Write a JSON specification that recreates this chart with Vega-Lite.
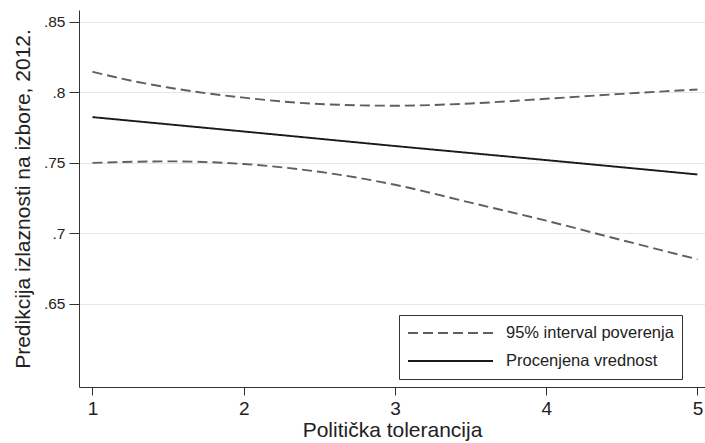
{
  "$schema": "https://vega.github.io/schema/vega-lite/v6.json",
  "width": 626,
  "height": 377,
  "autosize": "none",
  "padding": {"left": 79, "top": 10, "right": 0, "bottom": 56},
  "background": "white",
  "config": {
    "view": {"stroke": null},
    "font": "Liberation Sans"
  },
  "data": {
    "values": [
      {"x": 1.0, "y": 0.8147, "series": "upper", "type": "95% interval poverenja"},
      {"x": 1.25, "y": 0.8085, "series": "upper", "type": "95% interval poverenja"},
      {"x": 1.5, "y": 0.8035, "series": "upper", "type": "95% interval poverenja"},
      {"x": 1.75, "y": 0.7995, "series": "upper", "type": "95% interval poverenja"},
      {"x": 2.0, "y": 0.7963, "series": "upper", "type": "95% interval poverenja"},
      {"x": 2.5, "y": 0.7918, "series": "upper", "type": "95% interval poverenja"},
      {"x": 3.0, "y": 0.7906, "series": "upper", "type": "95% interval poverenja"},
      {"x": 3.5, "y": 0.7922, "series": "upper", "type": "95% interval poverenja"},
      {"x": 4.0, "y": 0.7955, "series": "upper", "type": "95% interval poverenja"},
      {"x": 4.5, "y": 0.799, "series": "upper", "type": "95% interval poverenja"},
      {"x": 5.0, "y": 0.8021, "series": "upper", "type": "95% interval poverenja"},
      {"x": 1.0, "y": 0.75, "series": "lower", "type": "95% interval poverenja"},
      {"x": 1.5, "y": 0.7511, "series": "lower", "type": "95% interval poverenja"},
      {"x": 2.0, "y": 0.7492, "series": "lower", "type": "95% interval poverenja"},
      {"x": 2.5, "y": 0.7437, "series": "lower", "type": "95% interval poverenja"},
      {"x": 3.0, "y": 0.7345, "series": "lower", "type": "95% interval poverenja"},
      {"x": 3.5, "y": 0.7218, "series": "lower", "type": "95% interval poverenja"},
      {"x": 4.0, "y": 0.709, "series": "lower", "type": "95% interval poverenja"},
      {"x": 4.5, "y": 0.6952, "series": "lower", "type": "95% interval poverenja"},
      {"x": 5.0, "y": 0.6816, "series": "lower", "type": "95% interval poverenja"},
      {"x": 1.0, "y": 0.7825, "series": "est", "type": "Procenjena vrednost"},
      {"x": 2.0, "y": 0.7723, "series": "est", "type": "Procenjena vrednost"},
      {"x": 3.0, "y": 0.762, "series": "est", "type": "Procenjena vrednost"},
      {"x": 4.0, "y": 0.752, "series": "est", "type": "Procenjena vrednost"},
      {"x": 5.0, "y": 0.7418, "series": "est", "type": "Procenjena vrednost"}
    ]
  },
  "mark": {"type": "line", "interpolate": "monotone", "strokeWidth": 1.9},
  "encoding": {
    "x": {
      "field": "x",
      "type": "quantitative",
      "scale": {"domain": [0.911, 5.05], "nice": false, "zero": false},
      "axis": {
        "values": [1, 2, 3, 4, 5],
        "title": "Politička tolerancija",
        "titleFontSize": 21,
        "titleFontWeight": "normal",
        "titleColor": "#222",
        "titlePadding": 1,
        "labelFontSize": 19,
        "labelColor": "#222",
        "labelPadding": 4,
        "tickSize": 8,
        "tickColor": "#333",
        "domainColor": "#333",
        "grid": false,
        "labelFlush": false
      }
    },
    "y": {
      "field": "y",
      "type": "quantitative",
      "scale": {"domain": [0.591, 0.8585], "nice": false, "zero": false},
      "axis": {
        "values": [0.65, 0.7, 0.75, 0.8, 0.85],
        "labelExpr": "replace(format(datum.value, '.2~f'), '0.', '.')",
        "title": "Predikcija izlaznosti na izbore, 2012.",
        "titleFontSize": 21,
        "titleFontWeight": "normal",
        "titleColor": "#222",
        "titlePadding": 10,
        "labelFontSize": 15.5,
        "labelColor": "#222",
        "labelPadding": 4,
        "tickSize": 10,
        "tickColor": "#333",
        "domainColor": "#333",
        "grid": true,
        "gridColor": "#e6e6e6",
        "gridWidth": 1.2
      }
    },
    "color": {
      "field": "type",
      "type": "nominal",
      "scale": {"domain": ["95% interval poverenja", "Procenjena vrednost"], "range": ["#5f5f5f", "#1a1a1a"]},
      "legend": {
        "title": null,
        "orient": "none",
        "legendX": 320,
        "legendY": 305,
        "direction": "vertical",
        "strokeColor": "#333",
        "fillColor": "white",
        "padding": 8,
        "symbolType": "stroke",
        "symbolSize": 7225,
        "clipHeight": 20,
        "symbolStrokeWidth": 1.9,
        "labelFontSize": 16.5,
        "labelColor": "#222",
        "labelOffset": 12,
        "labelExpr": "datum.label + '\u2003\u2003\u2003'",
        "rowPadding": 8,
        "labelLimit": 400,
        "offset": 0
      }
    },
    "strokeDash": {
      "field": "type",
      "type": "nominal",
      "scale": {"domain": ["95% interval poverenja", "Procenjena vrednost"], "range": [[10, 5], [1, 0]]},
      "legend": null
    },
    "detail": {"field": "series"}
  }
}
